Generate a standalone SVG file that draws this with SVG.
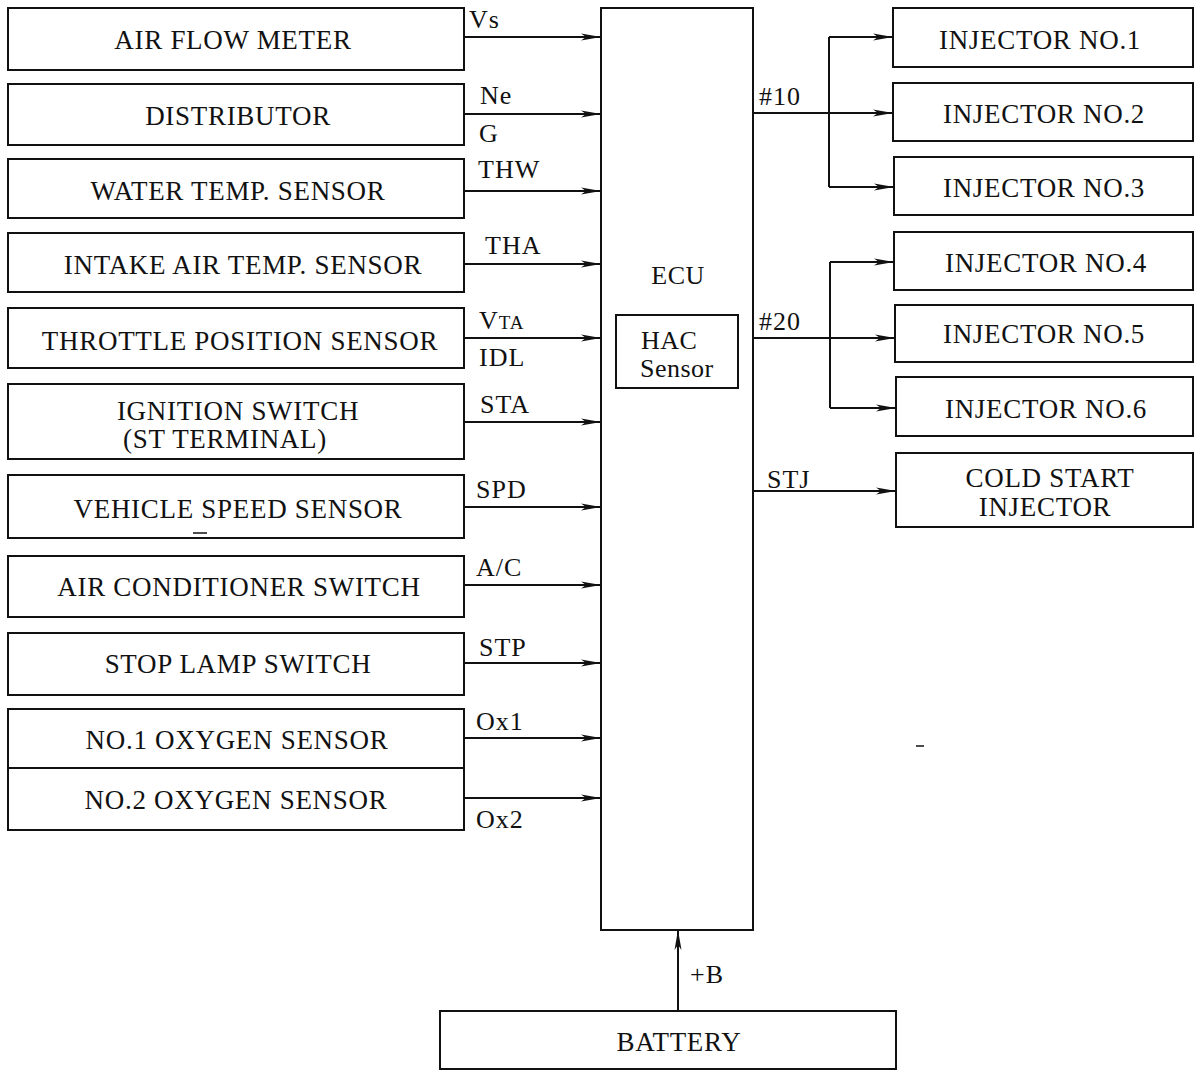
<svg xmlns="http://www.w3.org/2000/svg" width="1194" height="1071" viewBox="0 0 1194 1071">
<defs>
<marker id="ah" markerWidth="20" markerHeight="8" refX="20" refY="4" orient="auto" markerUnits="userSpaceOnUse">
<path d="M0,0.5 L20,4 L0,7.5 L5,4 Z" fill="#111"/>
</marker>
<style>
rect{fill:#fff;stroke:#111;stroke-width:2}
text{font-family:"Liberation Serif","Times New Roman",serif;font-size:27px;letter-spacing:0.7px;fill:#111}
.c{text-anchor:middle}
.l{font-size:26px;letter-spacing:1px}
.e{font-size:26px;letter-spacing:0.5px}
#connectors line,#connectors path{stroke:#111;stroke-width:2;fill:none}
.a{marker-end:url(#ah)}
</style>
</defs>
<rect x="0" y="0" width="1194" height="1071" style="fill:#fff;stroke:none"/>
<g id="air-flow-meter"><rect x="8" y="8" width="456" height="62"/><text class="c" x="233" y="49">AIR FLOW METER</text></g>
<g id="distributor"><rect x="8" y="84" width="456" height="61"/><text class="c" x="238" y="125">DISTRIBUTOR</text></g>
<g id="water-temp"><rect x="8" y="159" width="456" height="59"/><text class="c" x="238" y="200">WATER TEMP. SENSOR</text></g>
<g id="intake-air-temp"><rect x="8" y="233" width="456" height="59"/><text class="c" x="243" y="274">INTAKE AIR TEMP. SENSOR</text></g>
<g id="throttle"><rect x="8" y="308" width="456" height="60"/><text class="c" x="240" y="350">THROTTLE POSITION SENSOR</text></g>
<g id="ignition"><rect x="8" y="384" width="456" height="75"/><text class="c" x="238" y="420">IGNITION SWITCH</text><text class="c" x="225" y="448">(ST TERMINAL)</text></g>
<g id="vehicle-speed"><rect x="8" y="475" width="456" height="63"/><text class="c" x="238" y="518">VEHICLE SPEED SENSOR</text><line x1="193" y1="533" x2="207" y2="533" stroke="#111" stroke-width="1.5"/></g>
<g id="air-conditioner"><rect x="8" y="556" width="456" height="61"/><text class="c" x="239" y="596">AIR CONDITIONER SWITCH</text></g>
<g id="stop-lamp"><rect x="8" y="633" width="456" height="62"/><text class="c" x="238" y="673">STOP LAMP SWITCH</text></g>
<g id="oxygen-1"><rect x="8" y="709" width="456" height="59"/><text class="c" x="237" y="749">NO.1 OXYGEN SENSOR</text></g>
<g id="oxygen-2"><rect x="8" y="768" width="456" height="62"/><text class="c" x="236" y="809">NO.2 OXYGEN SENSOR</text></g>
<g id="ecu"><rect x="601" y="8" width="152" height="922"/><text class="c e" x="678" y="284">ECU</text></g>
<g id="hac-sensor"><rect x="616" y="315" width="122" height="73"/><text class="e" x="641" y="349">HAC</text><text class="e" x="640" y="377">Sensor</text></g>
<g id="injector-1"><rect x="893" y="8" width="300" height="59"/><text class="c" x="1040" y="49">INJECTOR NO.1</text></g>
<g id="injector-2"><rect x="893" y="83" width="300" height="58"/><text class="c" x="1044" y="123">INJECTOR NO.2</text></g>
<g id="injector-3"><rect x="894" y="157" width="299" height="58"/><text class="c" x="1044" y="197">INJECTOR NO.3</text></g>
<g id="injector-4"><rect x="894" y="232" width="299" height="58"/><text class="c" x="1046" y="272">INJECTOR NO.4</text></g>
<g id="injector-5"><rect x="895" y="305" width="298" height="57"/><text class="c" x="1044" y="343">INJECTOR NO.5</text></g>
<g id="injector-6"><rect x="896" y="377" width="297" height="59"/><text class="c" x="1046" y="418">INJECTOR NO.6</text></g>
<g id="cold-start"><rect x="896" y="453" width="297" height="74"/><text class="c" x="1050" y="487">COLD START</text><text class="c" x="1045" y="516">INJECTOR</text></g>
<g id="battery"><rect x="440" y="1011" width="456" height="58"/><text class="c" x="679" y="1051">BATTERY</text></g>
<g id="connectors">
<line class="a" x1="464" y1="37" x2="601" y2="37"/>
<line class="a" x1="464" y1="114" x2="601" y2="114"/>
<line class="a" x1="464" y1="191" x2="601" y2="191"/>
<line class="a" x1="464" y1="264" x2="601" y2="264"/>
<line class="a" x1="464" y1="338" x2="601" y2="338"/>
<line class="a" x1="464" y1="422" x2="601" y2="422"/>
<line class="a" x1="464" y1="507" x2="601" y2="507"/>
<line class="a" x1="464" y1="585" x2="601" y2="585"/>
<line class="a" x1="464" y1="663" x2="601" y2="663"/>
<line class="a" x1="464" y1="738" x2="601" y2="738"/>
<line class="a" x1="464" y1="798" x2="601" y2="798"/>
<line class="a" x1="753" y1="113" x2="893" y2="113"/>
<path d="M829,187 L829,37"/>
<line class="a" x1="829" y1="37" x2="893" y2="37"/>
<line class="a" x1="829" y1="187" x2="894" y2="187"/>
<line class="a" x1="753" y1="338" x2="895" y2="338"/>
<path d="M830,408 L830,262"/>
<line class="a" x1="830" y1="262" x2="894" y2="262"/>
<line class="a" x1="830" y1="408" x2="896" y2="408"/>
<line class="a" x1="753" y1="491" x2="896" y2="491"/>
<line class="a" x1="678" y1="1011" x2="678" y2="930"/>
<text class="l" x="469" y="28">Vs</text>
<text class="l" x="480" y="104">Ne</text>
<text class="l" x="479" y="142">G</text>
<text class="l" x="478" y="178">THW</text>
<text class="l" x="485" y="254">THA</text>
<text class="l" x="479" y="329">V<tspan font-size="19">TA</tspan></text>
<text class="l" x="479" y="366">IDL</text>
<text class="l" x="480" y="413">STA</text>
<text class="l" x="476" y="498">SPD</text>
<text class="l" x="476" y="576">A/C</text>
<text class="l" x="479" y="656">STP</text>
<text class="l" x="476" y="730">Ox1</text>
<text class="l" x="476" y="828">Ox2</text>
<text class="l" x="759" y="105">#10</text>
<text class="l" x="759" y="330">#20</text>
<text class="l" x="767" y="488">STJ</text>
<text class="l" x="690" y="983">+B</text>
</g>
<line x1="916" y1="746" x2="924" y2="746" stroke="#111" stroke-width="1.5"/>
</svg>
